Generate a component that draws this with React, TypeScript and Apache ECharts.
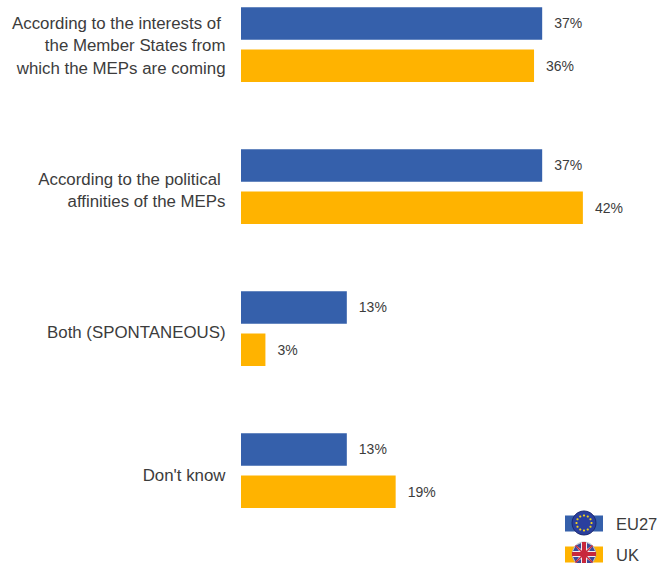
import React, { useEffect, useRef } from "react";
import * as echarts from "echarts";

const categories = [
  "According to the interests of \nthe Member States from\nwhich the MEPs are coming",
  "According to the political \naffinities of the MEPs",
  "Both (SPONTANEOUS)",
  "Don't know",
];
const eu27 = [37, 37, 13, 13];
const uk = [36, 42, 3, 19];
const labelNudge = [1, 4, 4, 5];
const LINE_HEIGHT = 22.5;

const FONT = "'Liberation Sans', Arial, sans-serif";
const TEXT = "#3c3c3c";

function euFlag(cx: number, cy: number) {
  const stars = Array.from({ length: 12 }, (_, i) => {
    const a = (i * Math.PI) / 6;
    return {
      type: "circle",
      z: 11,
      shape: { cx: cx + 7.5 * Math.cos(a), cy: cy + 7.5 * Math.sin(a), r: 1.1 },
      style: { fill: "#f2d21b" },
    };
  });
  return [
    { type: "circle", z: 10, shape: { cx, cy, r: 12 }, style: { fill: "#2a3f9e", stroke: "#1c2a70", lineWidth: 1 } },
    ...stars,
  ];
}

function ukFlag(cx: number, cy: number) {
  const q = (sx: number, sy: number) => [
    { type: "polygon", z: 11, shape: { points: [[cx + sx * 3, cy + sy * 11], [cx + sx * 8, cy + sy * 8.5], [cx + sx * 3, cy + sy * 5]] }, style: { fill: "#3b4a9a" } },
    { type: "polygon", z: 11, shape: { points: [[cx + sx * 11, cy + sy * 3], [cx + sx * 8.5, cy + sy * 8], [cx + sx * 5, cy + sy * 3]] }, style: { fill: "#3b4a9a" } },
    { type: "line", z: 11, shape: { x1: cx, y1: cy, x2: cx + sx * 8.5, y2: cy + sy * 8.5 }, style: { stroke: "#c8283c", lineWidth: 1.6 } },
  ];
  return [
    { type: "circle", z: 10, shape: { cx, cy, r: 12 }, style: { fill: "#f0eef2", stroke: "#9a9aa8", lineWidth: 0.6 } },
    ...q(1, 1),
    ...q(1, -1),
    ...q(-1, 1),
    ...q(-1, -1),
    { type: "rect", z: 12, shape: { x: cx - 2, y: cy - 12, width: 4, height: 24 }, style: { fill: "#c8283c" } },
    { type: "rect", z: 12, shape: { x: cx - 12, y: cy - 2, width: 24, height: 4 }, style: { fill: "#c8283c" } },
  ];
}

export default function App() {
  const ref = useRef<HTMLDivElement>(null);
  useEffect(() => {
    document.body.style.margin = "0";
    document.body.style.background = "#ffffff";
    const chart = echarts.init(ref.current!, undefined, { renderer: "svg" });
    const valueLabel = {
      show: true,
      position: "right" as const,
      distance: 12,
      formatter: "{c}%",
      color: TEXT,
      fontFamily: FONT,
      fontSize: 14,
    };
    chart.setOption({
      animation: false,
      backgroundColor: "#ffffff",
      grid: { left: 241, top: -26.5, width: 407, height: 568, outerBoundsMode: "none" },
      legend: {
        orient: "vertical",
        left: 565,
        top: 515,
        padding: 0,
        itemWidth: 38,
        itemHeight: 16,
        itemGap: 14,
        icon: "rect",
        selectedMode: false,
        data: ["EU27", "UK"],
        textStyle: { color: TEXT, fontFamily: FONT, fontSize: 16.5, padding: [0, 0, 0, 8] },
      },
      xAxis: { type: "value", min: 0, max: 50, show: false },
      yAxis: {
        type: "category",
        inverse: true,
        data: categories.map((value, i) => ({
          value,
          textStyle: {
            verticalAlign: "top",
            padding: [labelNudge[i] - (value.split("\n").length * LINE_HEIGHT) / 2, 0, 0, 0],
          },
        })),
        axisLine: { show: false },
        axisTick: { show: false },
        axisLabel: {
          color: TEXT,
          fontFamily: FONT,
          fontSize: 16.85,
          lineHeight: LINE_HEIGHT,
          align: "right",
          margin: 15.5,
        },
      },
      series: [
        {
          name: "EU27",
          type: "bar",
          data: eu27,
          barWidth: 32.5,
          barGap: "30%",
          itemStyle: { color: "#3560ab" },
          label: valueLabel,
        },
        {
          name: "UK",
          type: "bar",
          data: uk,
          barWidth: 32.5,
          barGap: "30%",
          itemStyle: { color: "#ffb300" },
          label: valueLabel,
        },
      ],
      graphic: [...euFlag(584, 523), ...ukFlag(584, 554)],
    });
    return () => chart.dispose();
  }, []);
  return <div ref={ref} style={{ width: 657, height: 563 }} />;
}
